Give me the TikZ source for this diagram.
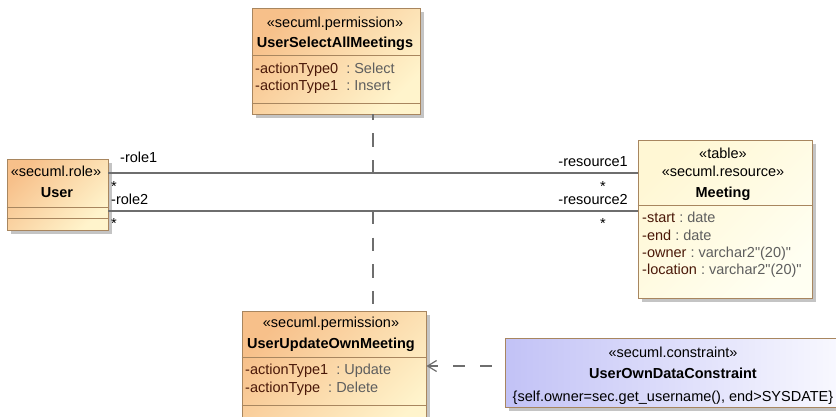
\documentclass[tikz,border=0pt]{standalone}
\usepackage{fontspec}
\setmainfont{Liberation Sans}[Ligatures=TeXOff]
\usetikzlibrary{arrows.meta,shadows}
\definecolor{bordc}{HTML}{A8865F}
\definecolor{orA}{HTML}{F7C08A}
\definecolor{orB}{HTML}{FFF4CC}
\definecolor{yeA}{HTML}{FFF7D4}
\definecolor{yeB}{HTML}{FFFFF2}
\definecolor{blA}{HTML}{C2C2F6}
\definecolor{blB}{HTML}{FAFAFF}
\definecolor{attrc}{HTML}{4A1808}
\definecolor{typec}{HTML}{5E5E5E}
\definecolor{linec}{HTML}{6E6E6E}
\definecolor{shadc}{HTML}{C4C4C4}
\newcommand\dfont{\fontsize{14.5}{17}\selectfont}
\newcommand\att[2]{\textcolor{attrc}{#1}\textcolor{typec}{\ :\ #2}}
\newcommand\qd{\symbol{34}}
\begin{document}
\begin{tikzpicture}[x=1pt,y=-1pt,
  every node/.style={font=\dfont, inner sep=0pt},
  box/.style={draw=bordc, line width=0.9pt, rectangle, inner sep=0pt,
    drop shadow={shadow xshift=4pt, shadow yshift=-4pt, fill=shadc, draw=none, opacity=1}},
  classfill/.style={top color=orA, bottom color=orB, shading angle=45},
  resfill/.style={top color=yeA, bottom color=yeB, shading angle=45},
  consfill/.style={left color=blA, right color=blB},
  sep/.style={draw=bordc, line width=0.9pt},
  assoc/.style={draw=linec, line width=1.2pt},
  dashline/.style={draw=linec, line width=1.2pt},
  nm/.style={font=\dfont\bfseries}
]
\useasboundingbox (0,0) rectangle (836,416);
\clip (0,0) rectangle (836,416);

% boxes
\node[box, classfill, minimum width=168, minimum height=106] (sa) at (336,61) {};
\node[box, classfill, minimum width=101, minimum height=71] (user) at (57.5,194.5) {};
\node[box, resfill, minimum width=174, minimum height=158] (meeting) at (725,219) {};
\node[box, classfill, minimum width=184, minimum height=129] (uuom) at (334,375.5) {};
\node[box, consfill, minimum width=345, minimum height=69] (cons) at (677.5,372.5) {};

% compartments
\draw[sep] (sa.west |- 0,55) -- (sa.east |- 0,55);
\draw[sep] (sa.west |- 0,103) -- (sa.east |- 0,103);
\draw[sep] (user.west |- 0,207) -- (user.east |- 0,207);
\draw[sep] (user.west |- 0,218) -- (user.east |- 0,218);
\draw[sep] (meeting.west |- 0,205) -- (meeting.east |- 0,205);
\draw[sep] (uuom.west |- 0,357) -- (uuom.east |- 0,357);
\draw[sep] (uuom.west |- 0,405) -- (uuom.east |- 0,405);

% texts: UserSelectAllMeetings
\node[anchor=base] (sa-st) at (335,27) {«secuml.permission»};
\node[anchor=base, nm] (sa-nm) at (335,47) {UserSelectAllMeetings};
\node[anchor=base west] (sa-a1) at (255,73) {\att{-actionType0 }{Select}};
\node[anchor=base west] (sa-a2) at (255,90) {\att{-actionType1 }{Insert}};

% User
\node[anchor=base] (us-st) at (56,176) {«secuml.role»};
\node[anchor=base, nm] (us-nm) at (57,197) {User};

% Meeting
\node[anchor=base] (me-st1) at (723,158) {«table»};
\node[anchor=base] (me-st2) at (723,176) {«secuml.resource»};
\node[anchor=base, nm] (me-nm) at (723,197) {Meeting};
\node[anchor=base west] (me-a1) at (642,222) {\att{-start}{date}};
\node[anchor=base west] (me-a2) at (642,240) {\att{-end}{date}};
\node[anchor=base west] (me-a3) at (642,257) {\att{-owner}{varchar2\qd(20)\qd}};
\node[anchor=base west] (me-a4) at (642,274) {\att{-location}{varchar2\qd(20)\qd}};

% UserUpdateOwnMeeting
\node[anchor=base] (uu-st) at (331,327) {«secuml.permission»};
\node[anchor=base, nm] (uu-nm) at (331,348) {UserUpdateOwnMeeting};
\node[anchor=base west] (uu-a1) at (245,374) {\att{-actionType1 }{Update}};
\node[anchor=base west] (uu-a2) at (245,392) {\att{-actionType }{Delete}};

% constraint
\node[anchor=base] (co-st) at (673,357) {«secuml.constraint»};
\node[anchor=base, nm] (co-nm) at (673,378) {UserOwnDataConstraint};
\node[anchor=base] (co-tx) at (673,401) {\{self.owner=sec.get\_username(), end>SYSDATE\}};

% associations
\coordinate (r1) at (0,173);
\coordinate (r2) at (0,211);
\draw[assoc] (user.east |- r1) -- (meeting.west |- r1);
\draw[assoc] (user.east |- r2) -- (meeting.west |- r2);

% end labels
\node[anchor=base west] (l-role1) at (120,162) {-role1};
\node[anchor=base west] (l-st1) at (111,191) {*};
\node[anchor=base west] (l-role2) at (111,204) {-role2};
\node[anchor=base west] (l-st2) at (111,228) {*};
\node[anchor=base east] (l-res1) at (628,166) {-resource1};
\node[anchor=base] (l-st3) at (603,191) {*};
\node[anchor=base east] (l-res2) at (628,204) {-resource2};
\node[anchor=base] (l-st4) at (603,228) {*};

% association class links
\coordinate (a1) at (373,173);
\coordinate (a2) at (373,211);
\draw[dashline, dash pattern=on 13.5pt off 13pt] (a1) -- (sa.south -| a1);
\draw[dashline, dash pattern=on 13.3pt off 13.3pt] (a2) -- (uuom.north -| a2);

% dependency
\coordinate (d) at (0,366);
\draw[dashline, dash pattern=on 12pt off 15pt, dash phase=14pt,
  -{Straight Barb[length=9pt,width=11pt,line width=1.2pt]}] (cons.west |- d) -- (uuom.east |- d);
\end{tikzpicture}
\end{document}
